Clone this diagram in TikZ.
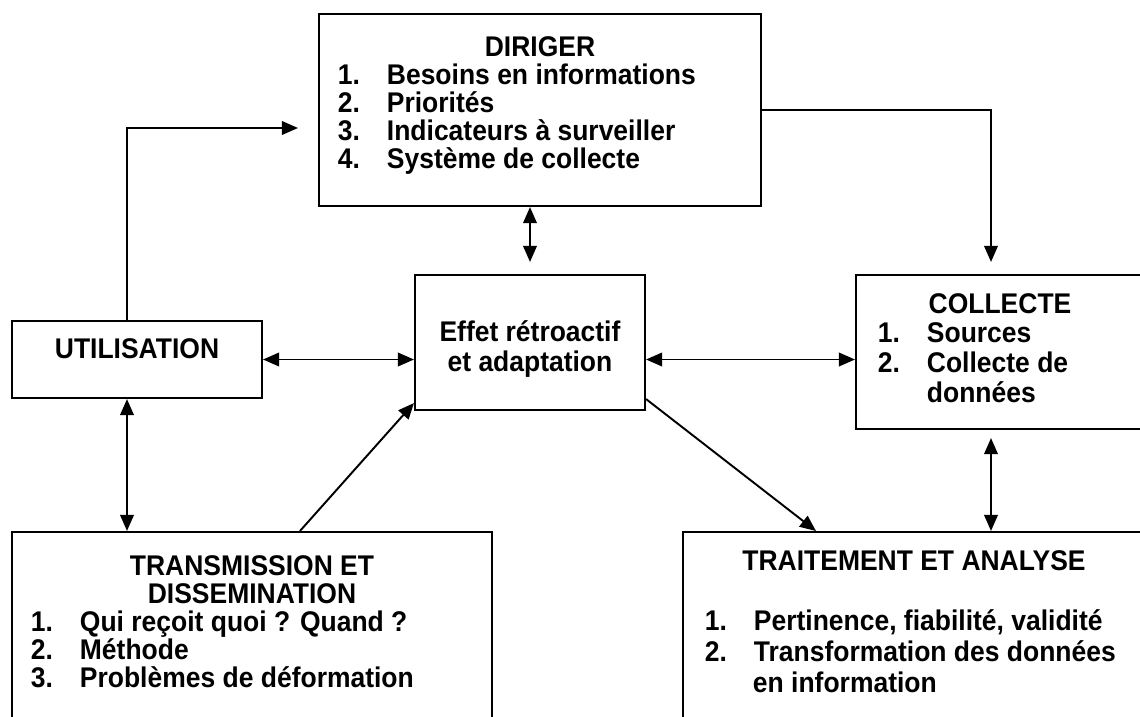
\documentclass[tikz,border=0pt]{standalone}
\usepackage{fontspec}
\setmainfont{Liberation Sans}[FakeStretch=0.93]
\usetikzlibrary{arrows.meta,positioning}

\newcommand{\puce}[1]{\makebox[0.98cm][l]{#1}}

\begin{document}
\begin{tikzpicture}[
    x = 0.02cm, y = -0.02cm, % one unit = one pixel, y going down
    line width = 1.1pt,
    box/.style = {draw, rectangle, inner sep=0pt, line width=1.2pt},
    titre/.style = {font=\bfseries\fontsize{16.2}{19}\selectfont, anchor=base, inner sep=0pt},
    item/.style = {font=\bfseries\fontsize{16.2}{19}\selectfont, anchor=base west, inner sep=0pt},
    arr/.style = {-{Triangle[length=0.32cm,width=0.27cm]}},
    darr/.style = {{Triangle[length=0.32cm,width=0.27cm]}-{Triangle[length=0.32cm,width=0.27cm]}}
    ]
    \useasboundingbox (0,0) rectangle (1140,717);
    \clip (0,0) rectangle (1140,717);

    % boxes
    \node[box, minimum width=8.84cm, minimum height=3.84cm] (dir) at (540,110) {};
    \node[box, minimum width=5cm, minimum height=1.54cm] (util) at (137,359.5) {};
    \node[box, minimum width=4.6cm, minimum height=2.7cm] (eff) at (530,342.5) {};
    \node[box, minimum width=6.08cm, minimum height=3.08cm] (coll) at (1008,352) {};
    \node[box, minimum width=9.6cm, minimum height=4.16cm] (trans) at (252,636) {};
    \node[box, minimum width=9.54cm, minimum height=4.16cm] (trait) at (921.5,636) {};

    % texts
    \node[titre] (dir-t) at (540,56) {DIRIGER};
    \node[item] (dir-1) at (337,84) {\puce{1.}Besoins en informations};
    \node[item] (dir-2) at (337,112) {\puce{2.}Priorités};
    \node[item] (dir-3) at (337,140) {\puce{3.}Indicateurs à surveiller};
    \node[item] (dir-4) at (337,168) {\puce{4.}Système de collecte};

    \node[titre] (util-t) at (137,358) {UTILISATION};

    \node[titre] (eff-1) at (530,341) {Effet rétroactif};
    \node[titre] (eff-2) at (530,371) {et adaptation};

    \node[titre] (coll-t) at (1000,313) {COLLECTE};
    \node[item] (coll-1) at (877,342) {\puce{1.}Sources};
    \node[item] (coll-2) at (877,372) {\puce{2.}Collecte de};
    \node[item] (coll-3) at (926,402) {données};

    \node[titre] (trans-t1) at (252,575) {TRANSMISSION ET};
    \node[titre] (trans-t2) at (252,603) {DISSEMINATION};
    \node[item] (trans-1) at (30,631) {\puce{1.}Qui reçoit quoi ? Quand ?};
    \node[item] (trans-2) at (30,659) {\puce{2.}Méthode};
    \node[item] (trans-3) at (30,687) {\puce{3.}Problèmes de déformation};

    \node[titre] (trait-t) at (914,570) {TRAITEMENT ET ANALYSE};
    \node[item] (trait-1) at (704,630) {\puce{1.}Pertinence, fiabilité, validité};
    \node[item] (trait-2) at (704,661) {\puce{2.}Transformation des données};
    \node[item] (trait-3) at (752,692) {en information};

    % connectors
    \draw[arr, shorten >=0.4cm] ([xshift=-0.2cm]util.north) |- ([yshift=-0.36cm]dir.west);
    \draw[arr, shorten >=0.24cm] (dir.east) -| ([xshift=-0.34cm]coll.north);
    \draw[darr, shorten >=0.24cm] (dir.south -| eff.north) -- (eff.north);
    \draw[darr] (util.east) -- (util.east -| eff.west);
    \draw[darr] (eff.east |- util.east) -- (coll.west |- util.east);
    \draw[darr] ([xshift=-0.2cm]util.south) -- ([xshift=-0.2cm]util.south |- trans.north);
    \draw[arr] ([xshift=0.96cm]trans.north) -- ([yshift=0.16cm]eff.south west);
    \draw[arr] ([yshift=0.24cm]eff.south east) -- ([xshift=2.68cm]trait.north west);
    \draw[darr, shorten <=0.16cm] ([xshift=-0.34cm]coll.south) -- ([xshift=-0.34cm]coll.south |- trait.north);
\end{tikzpicture}
\end{document}
